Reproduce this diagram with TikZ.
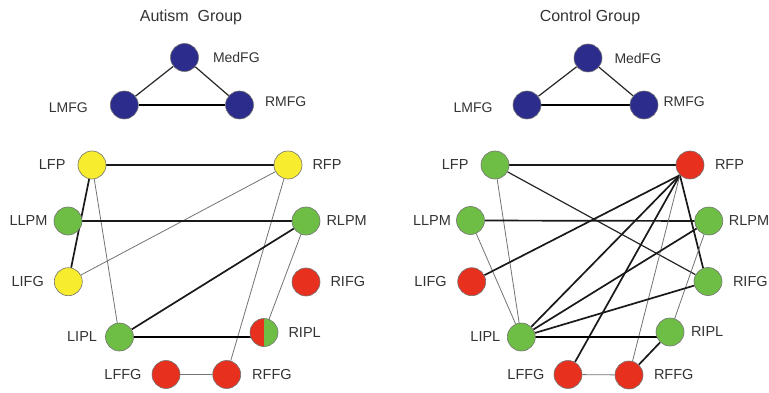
\documentclass[tikz,border=0pt]{standalone}
\usepackage{fontspec}
\setmainfont{Liberation Sans}
\usepackage{tikz}
\usetikzlibrary{positioning}
\pgfdeclarelayer{edges}
\pgfsetlayers{edges,main}
\definecolor{mfgblue}{RGB}{44,44,140}
\definecolor{fpyellow}{RGB}{247,236,45}
\definecolor{netgreen}{RGB}{110,190,70}
\definecolor{netred}{RGB}{232,48,31}
\tikzstyle{region} = [circle, draw=black!55, line width=0.6pt, minimum size=28pt, inner sep=0pt]
\tikzstyle{split} = [region, fill=netgreen, path picture={\fill[netred] (path picture bounding box.south west) rectangle (path picture bounding box.north);}]
\tikzstyle{lab} = [inner sep=0pt, text=black!80, font=\fontsize{14.5}{16}\selectfont]
\tikzstyle{toplab} = [inner sep=0pt, text=black!80, font=\fontsize{14}{16}\selectfont]
\tikzstyle{heading} = [inner sep=0pt, text=black!80, font=\fontsize{16}{19}\selectfont]
\tikzstyle{weak} = [line width=0.8pt, black!55]
\tikzstyle{medium} = [line width=1.2pt, black!85]
\tikzstyle{link} = [line width=1.7pt, black!90]
\tikzstyle{strong} = [line width=2.6pt, black]

\begin{document}
\begin{tikzpicture}[x=1pt, y=-1pt]
        \useasboundingbox (0,0) rectangle (769,393);

        % autism group
        \node (aut_title) [heading] at (191,17) {Autism\ \ Group};
        \node (aut_medfg) [region, fill=mfgblue] at (184.5,57.5) {};
        \node (aut_lmfg) [region, fill=mfgblue] at (124.3,105) {};
        \node (aut_rmfg) [region, fill=mfgblue] at (239.5,105) {};
        \node [toplab, right=14pt of aut_medfg] {MedFG};
        \node [toplab, left=22pt of aut_lmfg, yshift=-3pt] {LMFG};
        \node [toplab, right=11pt of aut_rmfg, yshift=3pt] {RMFG};

        \node (aut_lfp) [region, fill=fpyellow] at (92,165) {};
        \node (aut_rfp) [region, fill=fpyellow] at (288,165) {};
        \node (aut_llpm) [region, fill=netgreen] at (68,221) {};
        \node (aut_rlpm) [region, fill=netgreen] at (306,221) {};
        \node (aut_lifg) [region, fill=fpyellow] at (68.3,281.7) {};
        \node (aut_rifg) [region, fill=netred] at (306,282) {};
        \node (aut_lipl) [region, fill=netgreen] at (119.5,337) {};
        \node (aut_ripl) [split] at (264,332.5) {};
        \node (aut_lffg) [region, fill=netred] at (166,374.5) {};
        \node (aut_rffg) [region, fill=netred] at (226.7,374.5) {};

        \node [lab, left=12pt of aut_lfp] {LFP};
        \node [lab, left=6pt of aut_llpm] {LLPM};
        \node [lab, left=10pt of aut_lifg] {LIFG};
        \node [lab, left=8pt of aut_lipl] {LIPL};
        \node [lab, left=10pt of aut_lffg] {LFFG};
        \node [lab, right=10pt of aut_rfp] {RFP};
        \node [lab, right=6pt of aut_rlpm] {RLPM};
        \node [lab, right=10pt of aut_rifg] {RIFG};
        \node [lab, right=10pt of aut_ripl] {RIPL};
        \node [lab, right=11pt of aut_rffg] {RFFG};

        \begin{pgfonlayer}{edges}
        \draw [medium] (aut_lmfg) -- (aut_medfg);
        \draw [medium] (aut_medfg) -- (aut_rmfg);
        \draw [strong] (aut_lmfg) -- (aut_rmfg);

        \draw [link] (aut_lfp) -- (aut_rfp);
        \draw [link] (aut_lfp) -- (aut_lifg);
        \draw [weak] (aut_lfp) -- (aut_lipl);
        \draw [weak] (aut_rfp) -- (aut_lifg);
        \draw [weak] (aut_rfp) -- (aut_rffg);
        \draw [link] (aut_llpm) -- (aut_rlpm);
        \draw [link] (aut_rlpm) -- (aut_lipl);
        \draw [weak] (aut_rlpm) -- (aut_ripl);
        \draw [strong] (aut_lipl.center) -- (aut_lipl.center -| aut_ripl.center);
        \draw [weak] (aut_lffg) -- (aut_rffg);
        \end{pgfonlayer}

        % control group
        \node (ctl_title) [heading] at (590,17) {Control Group};
        \node (ctl_medfg) [region, fill=mfgblue] at (588,58) {};
        \node (ctl_lmfg) [region, fill=mfgblue] at (527,105) {};
        \node (ctl_rmfg) [region, fill=mfgblue] at (644,105) {};
        \node [toplab, right=12pt of ctl_medfg] {MedFG};
        \node [toplab, left=20pt of ctl_lmfg, yshift=-3pt] {LMFG};
        \node [toplab, right=5pt of ctl_rmfg, yshift=3pt] {RMFG};

        \node (ctl_lfp) [region, fill=netgreen] at (495,165) {};
        \node (ctl_rfp) [region, fill=netred] at (690,165) {};
        \node (ctl_llpm) [region, fill=netgreen] at (470.5,220.5) {};
        \node (ctl_rlpm) [region, fill=netgreen] at (708.8,221) {};
        \node (ctl_lifg) [region, fill=netred] at (471.7,281.7) {};
        \node (ctl_rifg) [region, fill=netgreen] at (708,281.5) {};
        \node (ctl_lipl) [region, fill=netgreen] at (521.3,337) {};
        \node (ctl_ripl) [region, fill=netgreen] at (670,332) {};
        \node (ctl_lffg) [region, fill=netred] at (568,374.5) {};
        \node (ctl_rffg) [region, fill=netred] at (629,375) {};

        \node [lab, left=12pt of ctl_lfp] {LFP};
        \node [lab, left=5pt of ctl_llpm] {LLPM};
        \node [lab, left=10.5pt of ctl_lifg] {LIFG};
        \node [lab, left=6.5pt of ctl_lipl] {LIPL};
        \node [lab, left=9pt of ctl_lffg] {LFFG};
        \node [lab, right=10.5pt of ctl_rfp] {RFP};
        \node [lab, right=5.5pt of ctl_rlpm] {RLPM};
        \node [lab, right=10.5pt of ctl_rifg] {RIFG};
        \node [lab, right=6.5pt of ctl_ripl] {RIPL};
        \node [lab, right=10.5pt of ctl_rffg] {RFFG};

        \begin{pgfonlayer}{edges}
        \draw [medium] (ctl_lmfg) -- (ctl_medfg);
        \draw [medium] (ctl_medfg) -- (ctl_rmfg);
        \draw [strong] (ctl_lmfg) -- (ctl_rmfg);

        \draw [link] (ctl_lfp) -- (ctl_rfp);
        \draw [weak] (ctl_lfp) -- (ctl_lipl);
        \draw [medium] (ctl_lfp) -- (ctl_rifg);
        \draw [link] (ctl_llpm) -- (ctl_rlpm);
        \draw [weak] (ctl_llpm) -- (ctl_lipl);
        \draw [link] (ctl_lifg) -- (ctl_rfp.225);
        \draw [link] (ctl_rfp.225) -- (ctl_rifg.110);
        \draw [link] (ctl_rfp.225) -- (ctl_lipl);
        \draw [link] (ctl_rfp.225) -- (ctl_lffg);
        \draw [weak] (ctl_rfp.225) -- (ctl_rffg);
        \draw [link] (ctl_rlpm) -- (ctl_lipl);
        \draw [weak] (ctl_rlpm) -- (ctl_ripl);
        \draw [link] (ctl_rifg) -- (ctl_lipl);
        \draw [strong] (ctl_lipl.center) -- (ctl_lipl.center -| ctl_ripl.center);
        \draw [link] (ctl_ripl) -- (ctl_rffg);
        \draw [weak] (ctl_lffg) -- (ctl_rffg);
        \end{pgfonlayer}
    \end{tikzpicture}
\end{document}
